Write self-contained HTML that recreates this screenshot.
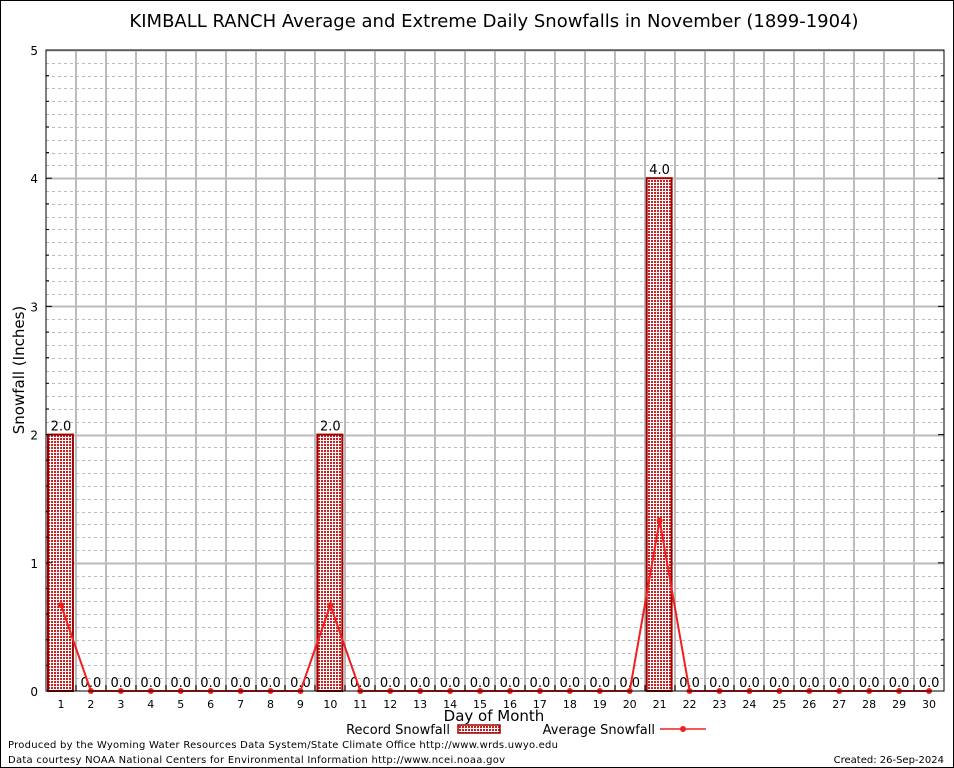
<!DOCTYPE html>
<html><head><meta charset="utf-8"><style>
body{margin:0;background:#fff}
svg{display:block}
text{font-family:"DejaVu Sans","Liberation Sans",sans-serif}
</style></head><body>
<svg id="c" width="954" height="768" xmlns="http://www.w3.org/2000/svg">
<defs>
<pattern id="pat" width="3" height="3" patternUnits="userSpaceOnUse">
<rect width="3" height="3" fill="#fff"/>
<rect width="2" height="2" fill="#c82020"/>
</pattern>
</defs>
<rect x="0.5" y="0.5" width="953" height="767" fill="#fff" stroke="#000"/>
<text x="494" y="27" font-size="18" text-anchor="middle" fill="#000">KIMBALL RANCH Average and Extreme Daily Snowfalls in November (1899-1904)</text>
<g id="grid"></g>
<g id="bars"></g>
<g id="line"></g>
<g id="axes"></g>
<text x="24" y="370" font-size="15" text-anchor="middle" transform="rotate(-90 24 370)">Snowfall (Inches)</text>
<text x="494" y="721" font-size="15" text-anchor="middle">Day of Month</text>
<g>
<text x="450" y="734" font-size="13" text-anchor="end">Record Snowfall</text>
<rect x="458" y="725" width="42" height="8" fill="url(#pat)" stroke="#a00000" stroke-width="1.5"/>
<text x="655" y="734" font-size="13" text-anchor="end">Average Snowfall</text>
<line x1="660" y1="729" x2="706" y2="729" stroke="#f02020" stroke-width="1.5"/>
<circle cx="683" cy="729" r="3" fill="#f02020"/>
</g>
<text x="8" y="748" font-size="10" textLength="550">Produced by the Wyoming Water Resources Data System/State Climate Office http://www.wrds.uwyo.edu</text>
<text x="8" y="763" font-size="10" textLength="497">Data courtesy NOAA National Centers for Environmental Information http://www.ncei.noaa.gov</text>
<text x="944" y="763" font-size="10" text-anchor="end">Created:  26-Sep-2024</text>
</svg>
<script>
const days = [1,2,3,4,5,6,7,8,9,10,11,12,13,14,15,16,17,18,19,20,21,22,23,24,25,26,27,28,29,30];
const recordSnow = [2.0,0,0,0,0,0,0,0,0,2.0,0,0,0,0,0,0,0,0,0,0,4.0,0,0,0,0,0,0,0,0,0];
const avgSnow = [0.67,0,0,0,0,0,0,0,0,0.67,0,0,0,0,0,0,0,0,0,0,1.33,0,0,0,0,0,0,0,0,0];
const yTicks = [0,1,2,3,4,5];

const NS="http://www.w3.org/2000/svg";
const L=46,R=944,T=50,B=691,YMAX=5;
const dw=(R-L)/days.length;
function x(d){return L+(d-0.5)*dw;}
function y(v){return B-(v/YMAX)*(B-T);}
function mk(tag,attrs,parent){const e=document.createElementNS(NS,tag);for(const k in attrs)e.setAttribute(k,attrs[k]);parent.appendChild(e);return e;}
const grid=document.getElementById('grid'),bars=document.getElementById('bars'),line=document.getElementById('line'),axes=document.getElementById('axes');
for(let i=1;i<YMAX*10;i++){if(i%10===0)continue;const yy=Math.round(y(i/10))+0.5;
const g=mk('line',{x1:L,x2:R,y1:yy,y2:yy,stroke:'#bbb','stroke-dasharray':'3,3','stroke-width':1},grid);

}
yTicks.forEach(v=>{if(v===0)return;const yy=Math.round(y(v))+0.5;
const g=mk('line',{x1:L,x2:R,y1:yy,y2:yy,stroke:'#bbb','stroke-width':2},grid);

});
for(let i=1;i<days.length;i++){const xx=Math.round(L+i*dw);
const g=mk('line',{x1:xx,x2:xx,y1:T,y2:B,stroke:'#bbb','stroke-width':2},grid);

}
days.forEach((d,i)=>{const v=recordSnow[i];
if(v>0){const b=mk('rect',{x:L+(d-1)*dw+2,y:y(v),width:dw-5,height:B-y(v),fill:'url(#pat)',stroke:'#a00000','stroke-width':2},bars);

}
const t=mk('text',{x:x(d),y:y(v)-4,'font-size':13,'text-anchor':'middle'},bars);t.textContent=v.toFixed(1);

});
const pts=days.map((d,i)=>x(d)+','+y(avgSnow[i])).join(' ');
const pl=mk('polyline',{points:pts,fill:'none',stroke:'#f02020','stroke-width':2},line);


days.forEach((d,i)=>{const c=mk('circle',{cx:x(d),cy:y(avgSnow[i]),r:3,fill:'#f02020'},line);

});
const fr=mk('rect',{x:L,y:T,width:R-L,height:B-T,fill:'none',stroke:'#000','stroke-width':1},axes);


yTicks.forEach(v=>{const t=mk('text',{x:L-8,y:y(v)+5,'font-size':12,'text-anchor':'end','font-family':'Liberation Serif, serif'},axes);t.textContent=v;

});
for(let i=1;i<YMAX*5;i++){const yy=y(i/5);
const tk=mk('line',{x1:L,x2:L+(i%5===0?6:3),y1:yy,y2:yy,stroke:'#000'},axes);


const tk2=mk('line',{x1:R,x2:R-(i%5===0?6:3),y1:yy,y2:yy,stroke:'#000'},axes);

}
days.forEach(d=>{const t=mk('text',{x:x(d),y:708,'font-size':11,'text-anchor':'middle','font-family':'Liberation Serif, serif'},axes);t.textContent=d;

});
for(let i=1;i<days.length;i++){const xx=Math.round(L+i*dw);
const tk=mk('line',{x1:xx,x2:xx,y1:B,y2:B-6,stroke:'#000'},axes);

}
</script>
</body></html>
